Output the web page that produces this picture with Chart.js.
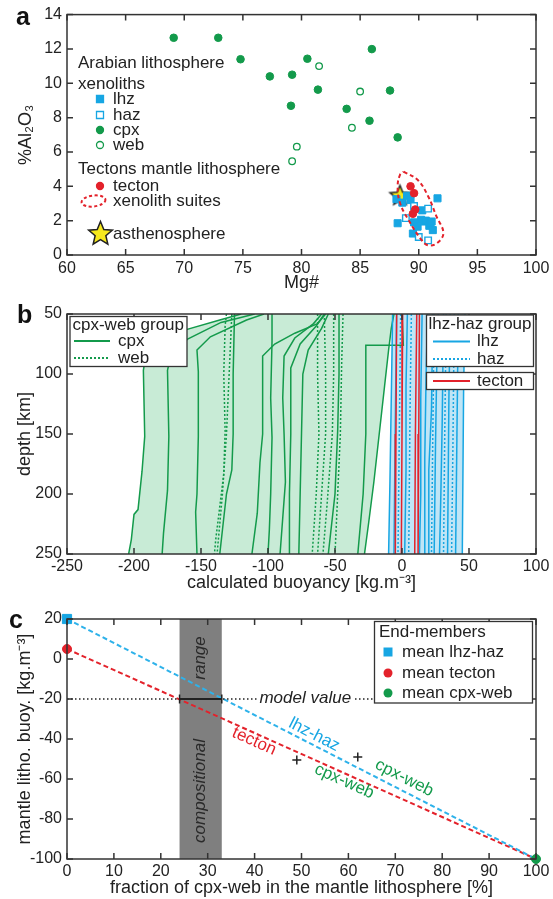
<!DOCTYPE html>
<html>
<head>
<meta charset="utf-8">
<script src="https://cdn.jsdelivr.net/npm/chart.js@4.4.1/dist/chart.umd.min.js"></script>
<style>
  body { margin: 0; background: #fff; }
  #figura { position: relative; width: 553px; height: 899px; }
  canvas { position: absolute; left: 0; }
  .letra { position: absolute; font: bold 25px 'Liberation Sans', Arial, sans-serif; line-height: 1; color: #111; }
</style>
</head>
<body>
<div id="figura">
  <canvas id="graficoA" width="553" height="298" style="top:0"></canvas>
  <canvas id="graficoB" width="553" height="298" style="top:298px"></canvas>
  <canvas id="graficoC" width="553" height="303" style="top:596px"></canvas>
  <div class="letra" style="left:16px;top:4px">a</div>
  <div class="letra" style="left:17px;top:302px">b</div>
  <div class="letra" style="left:9px;top:607px">c</div>
</div>
<script>
// ---- painel a: Mg# x %Al2O3 ----
const mgCpx = [69.1, 72.9, 74.8, 77.3, 79.2, 80.5, 81.4, 79.1, 83.85, 86.0, 87.55, 85.8, 88.2];
const alCpx = [12.65, 12.65, 11.4, 10.4, 10.5, 11.43, 9.63, 8.69, 8.51, 11.99, 9.58, 7.82, 6.85];
const mgWeb = [81.5, 85.0, 84.3, 79.6, 79.2];
const alWeb = [11.0, 9.52, 7.41, 6.31, 5.46];
const mgLhz = [88.1, 88.6, 89.0, 89.3, 90.3, 91.6, 88.2, 89.5, 89.6, 89.9, 90.2, 90.5, 90.6, 90.9, 91.0, 91.2, 91.1];
const alLhz = [3.25, 3.05, 3.45, 3.2, 2.6, 3.3, 1.85, 1.25, 1.9, 1.65, 2.05, 1.95, 2.0, 1.7, 1.85, 1.45, 1.95];
const mgHaz = [89.6, 90.8, 88.9, 90.0, 90.8];
const alHaz = [2.85, 2.7, 2.15, 1.05, 0.85];
const mgTecton = [89.3, 89.6, 89.7, 89.5];
const alTecton = [4.0, 3.6, 2.65, 2.4];
const mgAstenosfera = [88.4];
const alAstenosfera = [3.5];
const mgElipse = [88.7, 89.9, 90.8, 91.5, 92.1, 91.6, 90.8, 90.2, 89.1, 88.4, 88.2, 88.4, 88.7];
const alElipse = [4.85, 4.38, 3.42, 2.26, 1.29, 0.71, 0.56, 0.91, 2.07, 3.03, 4.0, 4.67, 4.85];

// ---- painel b: perfis [buoyancy, profundidade] ----
const perfisCpx = [
  [[-120,50],[-136,55],[-161,63],[-183,74],[-192,90],[-193,97],[-192,152],[-194,181],[-197,213],[-200,217],[-202,238],[-204,250]],
  [[-110,50],[-135,57],[-160,71],[-172,82],[-175,97],[-174,152],[-175,197],[-178,233],[-179,250]],
  [[-103,50],[-116,55],[-143,69],[-153,80],[-152,98],[-152,152],[-153,200],[-154,215],[-153,250]],
  [[-125,50],[-126,100],[-126,150],[-127,180],[-131,200],[-134,230],[-136,250]],
  [[-57,50],[-63,58],[-80,66],[-95,75],[-104,85],[-104,150],[-106,174],[-108,216],[-112,250]],
  [[-97,50],[-97,73],[-98,120],[-97,153],[-98,200],[-99,230],[-100,250]],
  [[-60,50],[-66,58],[-80,70],[-88,85],[-89,120],[-88,150],[-87,190],[-89,220],[-91,250]],
  [[-58,50],[-64,60],[-76,75],[-83,95],[-83,150],[-84,200],[-84,250]],
  [[-55,50],[-60,62],[-70,80],[-74,100],[-75,150],[-76,200],[-77,250]],
  [[-47,50],[-47,100],[-48,147],[-50,200],[-55,250]],
  [[0,50],[1,76],[-27,76],[-27,150],[-29,200],[-33,250]],
  [[-6,50],[-8,62],[-10,80],[-13,110],[-17,150],[-21,190],[-25,225],[-28,250]]
];
const perfisWeb = [
  [[-131,50],[-132,60],[-133,100],[-132,147],[-133,183],[-139,238],[-140,250]],
  [[-127,50],[-129,100],[-131,150],[-134,200],[-138,250]],
  [[-63,50],[-63,100],[-62,150],[-64,200],[-67,250]],
  [[-58,50],[-57,100],[-57,150],[-60,200],[-63,250]],
  [[-51,50],[-51,100],[-52,150],[-56,210],[-59,250]],
  [[-44,50],[-45,90],[-46,150],[-48,200],[-50,250]]
];
const perfisLhz = [
  [[-7,50],[-8,120],[-9,190],[-10,250]],
  [[-4,50],[-5,140],[-6,250]],
  [[4,50],[3,110],[3,180],[2,250]],
  [[15,50],[14,120],[14,200],[13,250]],
  [[19,50],[18,100],[17,170],[17,250]],
  [[23,50],[22,130],[20,180],[20,250]],
  [[27,50],[26,90],[25,160],[24,250]],
  [[31,50],[30,140],[29,200],[28,250]],
  [[36,50],[35,120],[34,250]],
  [[42,50],[41,150],[40,250]],
  [[47,50],[46,110],[45,250]]
];
const perfisHaz = [
  [[-1,50],[-2,150],[-3,250]],
  [[7,50],[6,130],[5,250]],
  [[24,50],[23,150],[22,250]],
  [[33,50],[32,140],[31,250]],
  [[39,50],[38,160],[37,250]]
];
const perfisTecton = [
  [[-4,50],[-4.5,150],[-5,250]],
  [[0.5,50],[0,150],[-0.5,250]],
  [[11,50],[10,150],[9.5,250]],
  [[13,50],[12.5,150],[12,250]]
];

// ---- painel c: mistura de membros finais ----
const fracaoCpxWeb = [0, 100];
const buoyLhzHaz = [20, -100];
const buoyTecton = [5, -100];
const valorModelo = -20;
const extensaoModelo = [0, 66];
const faixaComposicional = [24, 33];
const cruzesX = [49, 62];
const cruzesY = [-50.5, -49];

const fonte = "'Liberation Sans', Arial, Helvetica, sans-serif";
const verde = '#139a4b', verdeClaro = '#c8ebd6';
const azul = '#17a6e3', azulClaro = '#bfe5f6';
const vermelho = '#e3222b';
const amarelo = '#f6e81c';

Chart.defaults.font.family = fonte;
Chart.defaults.font.size = 16;
Chart.defaults.color = '#222';
Chart.defaults.animation = false;
Chart.defaults.plugins.legend.display = false;
Chart.defaults.plugins.tooltip.enabled = false;

function pares(xs, ys) { return xs.map((v, i) => ({ x: v, y: ys[i] })); }
function perfil(p) { return p.map(([b, d]) => ({ x: b, y: d })); }

function tracaEstrela(g, cx, cy, r) {
  g.beginPath();
  for (let i = 0; i < 10; i++) {
    const ang = -Math.PI / 2 + i * Math.PI / 5;
    const rr = i % 2 ? r * 0.45 : r;
    g.lineTo(cx + rr * Math.cos(ang), cy + rr * Math.sin(ang));
  }
  g.closePath();
  g.fillStyle = amarelo; g.fill();
  g.strokeStyle = '#222'; g.lineWidth = 1.5; g.stroke();
}
function estrela(r) {
  const c = document.createElement('canvas');
  const lado = Math.ceil(2 * r + 4);
  c.width = lado; c.height = lado;
  tracaEstrela(c.getContext('2d'), lado / 2, lado / 2 + 1, r);
  return c;
}

function eixoX(min, max, passo, altura, titulo, padTitulo, padTicks) {
  return {
    type: 'linear', min, max,
    grid: { display: false, drawTicks: false },
    border: { display: false },
    ticks: { stepSize: passo, padding: padTicks, maxRotation: 0, autoSkip: false },
    title: { display: true, text: titulo, font: { size: 18 }, padding: { top: 0, bottom: padTitulo } },
    afterFit: s => { s.height = altura; }
  };
}
function eixoY(min, max, passo, titulo, padTitulo, extra) {
  return Object.assign({
    type: 'linear', min, max,
    grid: { display: false, drawTicks: false },
    border: { display: false },
    ticks: { stepSize: passo, padding: 5, autoSkip: false },
    title: { display: true, text: titulo, font: { size: 18 }, padding: { top: padTitulo, bottom: 0 } },
    afterFit: s => { s.width = 67; }
  }, extra || {});
}

// moldura com marcas para dentro nos quatro lados
const moldura = {
  id: 'moldura',
  afterDatasetsDraw(chart) {
    const { ctx, chartArea: a } = chart;
    const { x, y } = chart.scales;
    ctx.save();
    ctx.strokeStyle = '#333';
    ctx.lineWidth = 1.5;
    ctx.beginPath();
    x.ticks.forEach(t => {
      const p = x.getPixelForValue(t.value);
      ctx.moveTo(p, a.bottom); ctx.lineTo(p, a.bottom - 6);
      ctx.moveTo(p, a.top); ctx.lineTo(p, a.top + 6);
    });
    y.ticks.forEach(t => {
      const p = y.getPixelForValue(t.value);
      ctx.moveTo(a.left, p); ctx.lineTo(a.left + 6, p);
      ctx.moveTo(a.right, p); ctx.lineTo(a.right - 6, p);
    });
    ctx.stroke();
    ctx.strokeRect(a.left, a.top, a.right - a.left, a.bottom - a.top);
    ctx.restore();
  }
};

function marcador(ctx, tipo, x, y, cor) {
  ctx.save();
  ctx.lineWidth = 1.3;
  ctx.strokeStyle = cor;
  ctx.beginPath();
  if (tipo === 'quadrado' || tipo === 'quadradoVazio') ctx.rect(x - 3.5, y - 3.5, 7, 7);
  else ctx.arc(x, y, 3.5, 0, Math.PI * 2);
  ctx.fillStyle = tipo.endsWith('Vazio') ? '#fff' : cor;
  ctx.fill();
  ctx.stroke();
  ctx.restore();
}

// legenda do painel a
const legendaA = {
  id: 'legendaA',
  afterDraw(chart) {
    const ctx = chart.ctx;
    ctx.save();
    ctx.font = '17px ' + fonte;
    ctx.fillStyle = '#222';
    ctx.textBaseline = 'middle';
    ctx.fillText('Arabian lithosphere', 78, 63);
    ctx.fillText('xenoliths', 78, 84);
    ctx.fillText('Tectons mantle lithosphere', 78, 169);
    const itens = [
      ['lhz', 99, 'quadrado', azul], ['haz', 115, 'quadradoVazio', azul],
      ['cpx', 130, 'circulo', verde], ['web', 145, 'circuloVazio', verde],
      ['tecton', 186, 'circulo', vermelho]
    ];
    itens.forEach(([txt, yy, tipo, cor]) => {
      marcador(ctx, tipo, 100, yy, cor);
      ctx.fillStyle = '#222';
      ctx.fillText(txt, 113, yy);
    });
    ctx.save();
    ctx.strokeStyle = vermelho; ctx.lineWidth = 2; ctx.setLineDash([3, 2.5]);
    ctx.beginPath(); ctx.ellipse(93.5, 201, 12, 5.5, -0.12, 0, Math.PI * 2); ctx.stroke();
    ctx.restore();
    ctx.fillText('xenolith suites', 113, 201);
    tracaEstrela(ctx, 100.5, 234, 12.5);
    ctx.fillStyle = '#222';
    ctx.fillText('asthenosphere', 113, 234);
    ctx.restore();
  }
};

new Chart(document.getElementById('graficoA'), {
  type: 'line',
  data: {
    datasets: [
      { data: pares(mgElipse, alElipse), borderColor: vermelho, borderWidth: 2, borderDash: [4, 3], tension: 0.4, pointRadius: 0, fill: false },
      { data: pares(mgTecton, alTecton), showLine: false, pointStyle: 'circle', pointRadius: 3.8, pointBackgroundColor: vermelho, pointBorderColor: vermelho },
      { data: pares(mgHaz, alHaz), showLine: false, pointStyle: 'rect', pointRadius: 4.6, pointBackgroundColor: '#fff', pointBorderColor: azul, pointBorderWidth: 1.4 },
      { data: pares(mgLhz, alLhz), showLine: false, pointStyle: 'rect', pointRadius: 5, pointBackgroundColor: azul, pointBorderColor: azul },
      { data: pares(mgAstenosfera, alAstenosfera), showLine: false, pointStyle: estrela(10.5), pointRadius: 10 },
      { data: pares(mgWeb, alWeb), showLine: false, pointStyle: 'circle', pointRadius: 3.3, pointBackgroundColor: '#fff', pointBorderColor: verde, pointBorderWidth: 1.3 },
      { data: pares(mgCpx, alCpx), showLine: false, pointStyle: 'circle', pointRadius: 3.8, pointBackgroundColor: verde, pointBorderColor: verde }
    ]
  },
  options: {
    responsive: false, devicePixelRatio: 1,
    layout: { padding: { top: 14, right: 17, left: 0, bottom: 0 } },
    scales: {
      x: eixoX(60, 100, 5, 43, 'Mg#', 4, 3.5),
      y: eixoY(0, 14, 2, '%Al₂O₃', 15.5)
    }
  },
  plugins: [moldura, legendaA]
});

// ---- painel b ----
function linhaPerfil(p, cor, tracejado) {
  return { data: perfil(p), borderColor: cor, borderWidth: 1.5, borderDash: tracejado, pointRadius: 0, fill: false, order: 0 };
}
function envelope(esq, dir, cor) {
  return { data: perfil(esq.concat(dir.slice().reverse())), borderWidth: 0, pointRadius: 0, backgroundColor: cor, fill: 'shape', order: 1 };
}
const dsB = [];
perfisTecton.forEach(p => dsB.push(linhaPerfil(p, vermelho, [])));
perfisLhz.forEach(p => dsB.push(linhaPerfil(p, azul, [])));
perfisHaz.forEach(p => dsB.push(linhaPerfil(p, azul, [2, 2])));
perfisCpx.forEach(p => dsB.push(linhaPerfil(p, verde, [])));
perfisWeb.forEach(p => dsB.push(linhaPerfil(p, verde, [2, 2])));
dsB.push(envelope(perfisCpx[0], perfisCpx[perfisCpx.length - 1], verdeClaro));
dsB.push(envelope(perfisLhz[0], perfisLhz[perfisLhz.length - 1], azulClaro));

function caixa(ctx, x0, y0, x1, y1) {
  ctx.fillStyle = '#fff';
  ctx.fillRect(x0, y0, x1 - x0, y1 - y0);
  ctx.strokeStyle = '#333';
  ctx.lineWidth = 1.3;
  ctx.strokeRect(x0, y0, x1 - x0, y1 - y0);
}
function amostra(ctx, x0, x1, y, cor, tracejado) {
  ctx.save();
  ctx.strokeStyle = cor; ctx.lineWidth = 1.8; ctx.setLineDash(tracejado);
  ctx.beginPath(); ctx.moveTo(x0, y); ctx.lineTo(x1, y); ctx.stroke();
  ctx.restore();
}
const legendaB = {
  id: 'legendaB',
  afterDraw(chart) {
    const ctx = chart.ctx;
    ctx.save();
    ctx.font = '17px ' + fonte;
    ctx.textBaseline = 'middle';
    caixa(ctx, 70, 18.5, 187, 68.5);
    ctx.fillStyle = '#222';
    ctx.fillText('cpx-web group', 72.5, 27);
    amostra(ctx, 74, 110, 43, verde, []);
    amostra(ctx, 74, 110, 60, verde, [2, 2]);
    ctx.fillStyle = '#222';
    ctx.fillText('cpx', 118, 43);
    ctx.fillText('web', 118, 60);
    caixa(ctx, 426.5, 17, 533.5, 68.5);
    ctx.fillStyle = '#222';
    ctx.fillText('lhz-haz group', 428.5, 26);
    amostra(ctx, 433, 470, 43.5, azul, []);
    amostra(ctx, 433, 470, 61, azul, [2, 2]);
    ctx.fillStyle = '#222';
    ctx.fillText('lhz', 477, 43.5);
    ctx.fillText('haz', 477, 61);
    caixa(ctx, 426.5, 74.5, 533.5, 91.5);
    amostra(ctx, 433, 470, 83, vermelho, []);
    ctx.fillStyle = '#222';
    ctx.fillText('tecton', 477, 83);
    ctx.restore();
  }
};

new Chart(document.getElementById('graficoB'), {
  type: 'line',
  data: { datasets: dsB },
  options: {
    responsive: false, devicePixelRatio: 1,
    layout: { padding: { top: 16, right: 17, left: 0, bottom: 0 } },
    scales: {
      x: eixoX(-250, 100, 50, 42, 'calculated buoyancy [kg.m⁻³]', 2, 3),
      y: eixoY(50, 250, 50, 'depth [km]', 14, { reverse: true })
    }
  },
  plugins: [moldura, legendaB]
});

// ---- painel c ----
const rotulosC = {
  id: 'rotulosC',
  afterDatasetsDraw(chart) {
    const { ctx, scales: { x, y } } = chart;
    const px = v => x.getPixelForValue(v), py = v => y.getPixelForValue(v);
    const angulo = ys => Math.atan2(py(ys[1]) - py(ys[0]), px(fracaoCpxWeb[1]) - px(fracaoCpxWeb[0]));
    const escreve = (txt, vx, vy, ang, cor, italico) => {
      ctx.save();
      ctx.translate(px(vx), py(vy));
      ctx.rotate(ang);
      ctx.font = (italico ? 'italic ' : '') + '17px ' + fonte;
      ctx.fillStyle = cor;
      ctx.textAlign = 'center';
      ctx.textBaseline = 'middle';
      ctx.fillText(txt, 0, 0);
      ctx.restore();
    };
    const meio = (faixaComposicional[0] + faixaComposicional[1]) / 2;
    escreve('range', meio, 0.5, -Math.PI / 2, '#2a2a2a', true);
    escreve('compositional', meio, -66, -Math.PI / 2, '#2a2a2a', true);
    escreve('lhz-haz', 52.7, -37.9, angulo(buoyLhzHaz), azul);
    escreve('tecton', 39.9, -41.2, angulo(buoyTecton), vermelho);
    escreve('cpx-web', 59.1, -61.2, angulo(buoyTecton), verde);
    escreve('cpx-web', 71.9, -59.5, angulo(buoyLhzHaz), verde);
    ctx.save();
    ctx.font = 'italic 17px ' + fonte;
    const larg = ctx.measureText('model value').width;
    ctx.fillStyle = '#fff';
    ctx.fillRect(px(50.8) - larg / 2 - 2, py(valorModelo) - 6, larg + 4, 12);
    ctx.restore();
    escreve('model value', 50.8, -19.4, 0, '#222', true);
  }
};
const legendaC = {
  id: 'legendaC',
  afterDraw(chart) {
    const ctx = chart.ctx;
    ctx.save();
    ctx.font = '17px ' + fonte;
    ctx.textBaseline = 'middle';
    caixa(ctx, 374.5, 25.5, 532.5, 107);
    ctx.fillStyle = '#222';
    ctx.fillText('End-members', 379, 36);
    const itens = [['mean lhz-haz', 56, 'quadrado', azul], ['mean tecton', 77, 'circulo', vermelho], ['mean cpx-web', 97, 'circulo', verde]];
    itens.forEach(([txt, yy, tipo, cor]) => {
      ctx.save();
      ctx.fillStyle = cor;
      ctx.beginPath();
      if (tipo === 'quadrado') ctx.rect(388 - 4.5, yy - 4.5, 9, 9);
      else ctx.arc(388, yy, 4.5, 0, Math.PI * 2);
      ctx.fill();
      ctx.restore();
      ctx.fillStyle = '#222';
      ctx.fillText(txt, 402, yy);
    });
    ctx.restore();
  }
};

new Chart(document.getElementById('graficoC'), {
  type: 'line',
  data: {
    datasets: [
      { data: [{ x: fracaoCpxWeb[0], y: buoyLhzHaz[0] }], showLine: false, clip: false, pointStyle: 'rect', pointRadius: 6.5, pointBackgroundColor: azul, pointBorderColor: azul },
      { data: [{ x: fracaoCpxWeb[0], y: buoyTecton[0] }], showLine: false, clip: false, pointStyle: 'circle', pointRadius: 4.5, pointBackgroundColor: vermelho, pointBorderColor: vermelho },
      { data: [{ x: fracaoCpxWeb[1], y: buoyLhzHaz[1] }], showLine: false, clip: false, pointStyle: 'circle', pointRadius: 4.5, pointBackgroundColor: verde, pointBorderColor: verde },
      { data: pares(cruzesX, cruzesY), showLine: false, pointStyle: 'cross', pointRadius: 4.5, pointBorderColor: '#222', pointBorderWidth: 1.5 },
      { data: faixaComposicional.map(v => ({ x: v, y: valorModelo })), borderColor: '#222', borderWidth: 1.8, pointStyle: 'line', pointRotation: 90, pointRadius: 4.5, pointBorderColor: '#222', pointBorderWidth: 1.5 },
      { data: extensaoModelo.map(v => ({ x: v, y: valorModelo })), borderColor: '#222', borderWidth: 1.5, borderDash: [1.5, 2.5], pointRadius: 0 },
      { data: pares(fracaoCpxWeb, buoyLhzHaz), borderColor: '#2eb2ea', borderWidth: 2, borderDash: [5, 3], pointRadius: 0 },
      { data: pares(fracaoCpxWeb, buoyTecton), borderColor: vermelho, borderWidth: 2, borderDash: [5, 3], pointRadius: 0 },
      { data: [
          { x: faixaComposicional[0], y: buoyLhzHaz[0] }, { x: faixaComposicional[0], y: buoyLhzHaz[1] },
          { x: faixaComposicional[1], y: buoyLhzHaz[1] }, { x: faixaComposicional[1], y: buoyLhzHaz[0] }
        ], borderWidth: 0, pointRadius: 0, backgroundColor: '#7f7f7f', fill: 'shape', order: 1 }
    ]
  },
  options: {
    responsive: false, devicePixelRatio: 1,
    layout: { padding: { top: 23, right: 17, left: 0, bottom: 0 } },
    scales: {
      x: eixoX(0, 100, 10, 40, 'fraction of cpx-web in the mantle lithosphere [%]', 0, 3),
      y: eixoY(-100, 20, 20, 'mantle litho. buoy. [kg.m⁻³]', 14)
    }
  },
  plugins: [moldura, rotulosC, legendaC]
});
</script>
</body>
</html>
